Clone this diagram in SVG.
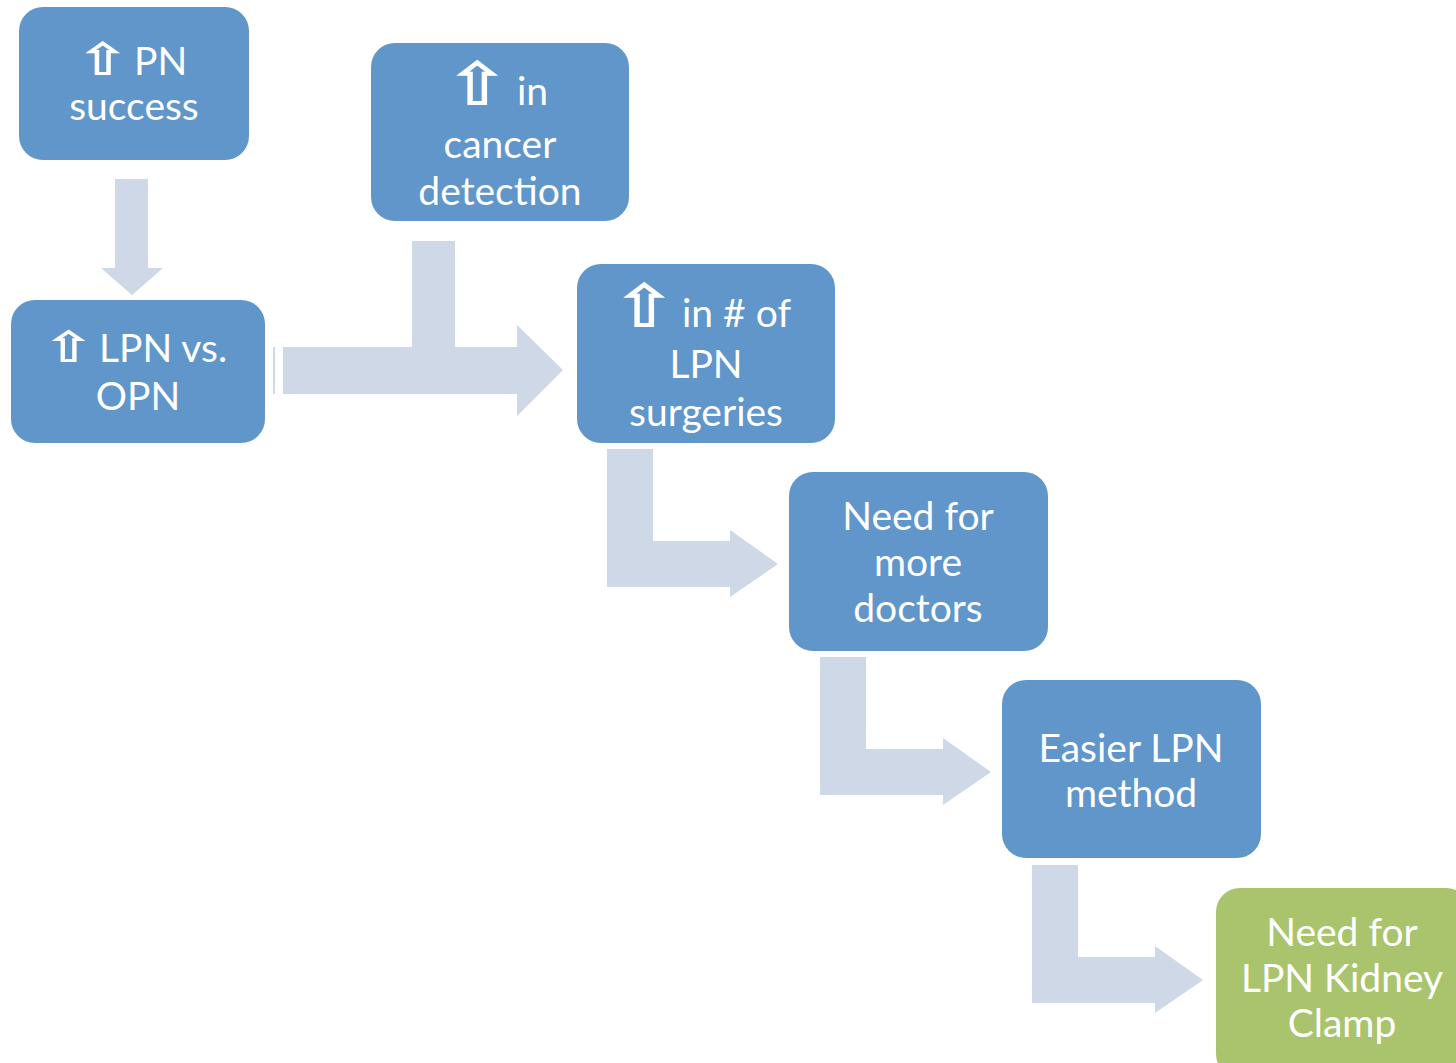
<svg xmlns="http://www.w3.org/2000/svg" width="1456" height="1063" viewBox="0 0 1456 1063">
<style>
.box{fill:#6096C9}
.green{fill:#A9C46D}
.conn{fill:#CED8E7}
.t{font-family:Lato,"Open Sans","Liberation Sans",sans-serif;font-size:39px;fill:#FFFFFF;text-anchor:middle}
.s{text-anchor:start}
.ar{font-family:"DejaVu Sans",sans-serif;font-weight:bold;fill:#FFFFFF;text-anchor:middle}
</style>
<rect width="1456" height="1063" fill="#FFFFFF"/>
<g id="connectors">
<polygon class="conn" points="115,179 148,179 148,268 163,268 132,295 101,268 115,268"/>
<rect class="conn" x="273" y="347" width="2" height="47"/>
<polygon class="conn" points="283,347 412,347 412,241 455,241 455,347 517,347 517,325 563,370 517,416 517,394 283,394"/>
<polygon class="conn" points="607,449 653,449 653,541 730,541 730,530 778,564 730,597 730,587 607,587"/>
<polygon class="conn" points="820,657 866,657 866,749 943,749 943,738 991,772 943,805 943,795 820,795"/>
<polygon class="conn" points="1032,865 1078,865 1078,957 1155,957 1155,946 1203,980 1155,1013 1155,1003 1032,1003"/>
</g>
<g id="node1">
<rect class="box" x="19" y="7" width="230" height="153" rx="24"/>
<text class="ar" font-size="45" transform="translate(103,75) scale(1.45,1)">⇧</text>
<text class="t s" x="134" y="75">PN</text>
<text class="t" x="134" y="120">success</text>
</g>
<g id="node2">
<rect class="box" x="11" y="300" width="254" height="143" rx="24"/>
<text class="ar" font-size="43" transform="translate(68,362) scale(1.45,1)">⇧</text>
<text class="t s" x="99" y="362">LPN vs.</text>
<text class="t" x="138" y="410">OPN</text>
</g>
<g id="node3">
<rect class="box" x="371" y="43" width="258" height="178" rx="24"/>
<text class="ar" font-size="60" transform="translate(477,105) scale(1.3,1)">⇧</text>
<text class="t s" x="517" y="105">in</text>
<text class="t" x="500" y="158">cancer</text>
<text class="t" x="500" y="205">detection</text>
</g>
<g id="node4">
<rect class="box" x="577" y="264" width="258" height="179" rx="24"/>
<text class="ar" font-size="60" transform="translate(644,327) scale(1.3,1)">⇧</text>
<text class="t s" x="682" y="327">in # of</text>
<text class="t" x="706" y="378">LPN</text>
<text class="t" x="706" y="426">surgeries</text>
</g>
<g id="node5">
<rect class="box" x="789" y="472" width="259" height="179" rx="24"/>
<text class="t" x="918" y="530">Need for</text>
<text class="t" x="918" y="576">more</text>
<text class="t" x="918" y="622">doctors</text>
</g>
<g id="node6">
<rect class="box" x="1002" y="680" width="259" height="178" rx="24"/>
<text class="t" x="1131" y="762">Easier LPN</text>
<text class="t" x="1131" y="807">method</text>
</g>
<g id="node7">
<rect class="green" x="1216" y="888" width="254" height="190" rx="24"/>
<text class="t" x="1342" y="946">Need for</text>
<text class="t" x="1342" y="992">LPN Kidney</text>
<text class="t" x="1342" y="1037">Clamp</text>
</g>
</svg>
